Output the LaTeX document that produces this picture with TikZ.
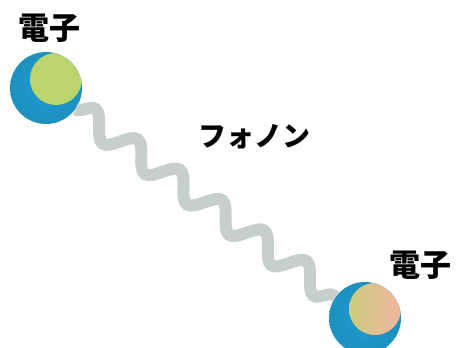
\documentclass[tikz,border=0pt]{standalone}
\usepackage{fontspec}
\newfontfamily\jpfont{Noto Sans CJK JP}
\usepackage{tikz}
\usetikzlibrary{decorations.pathmorphing,calc}
\definecolor{elecblue}{HTML}{1F9BCF}
\definecolor{elecdark}{HTML}{16657A}
\definecolor{elecgreen}{HTML}{B9D56C}
\definecolor{elecpink}{HTML}{F2B5A2}
\definecolor{wavegray}{HTML}{C5CFCE}

\begin{document}
\begin{tikzpicture}[
    x=1pt, y=-1pt,
    electron/.style={circle, minimum size=72pt, inner sep=0pt,
        inner color=elecblue, outer color=elecblue!80!elecdark},
    core/.style={path picture={
        \shade[left color=elecgreen, right color=#1]
            ($(path picture bounding box.center)+(10pt,9pt)$) circle (26pt);}},
    core/.default=elecgreen,
    label/.style={font=\jpfont\bfseries\fontsize{31}{31}\selectfont, text=black},
    phonon/.style={draw=wavegray, line width=12pt,
        decorate, decoration={snake, segment length=52pt, amplitude=12pt}}
]
\useasboundingbox (0,0) rectangle (458,348);
\clip (0,0) rectangle (458,348);

% two electrons and the phonon between them
\node[electron, core] (e1) at (46,88) {};
\node[electron, core=elecpink] (e2) at (365,318) {};
\draw[phonon] (e1) -- (e2);

\node[label] (t1) at (49,28) {電子};
\node[label] (t2) at (420,265) {電子};
\node[label, font=\jpfont\bfseries\fontsize{28}{28}\selectfont] (ph) at (254,137) {フォノン};
\end{tikzpicture}
\end{document}
